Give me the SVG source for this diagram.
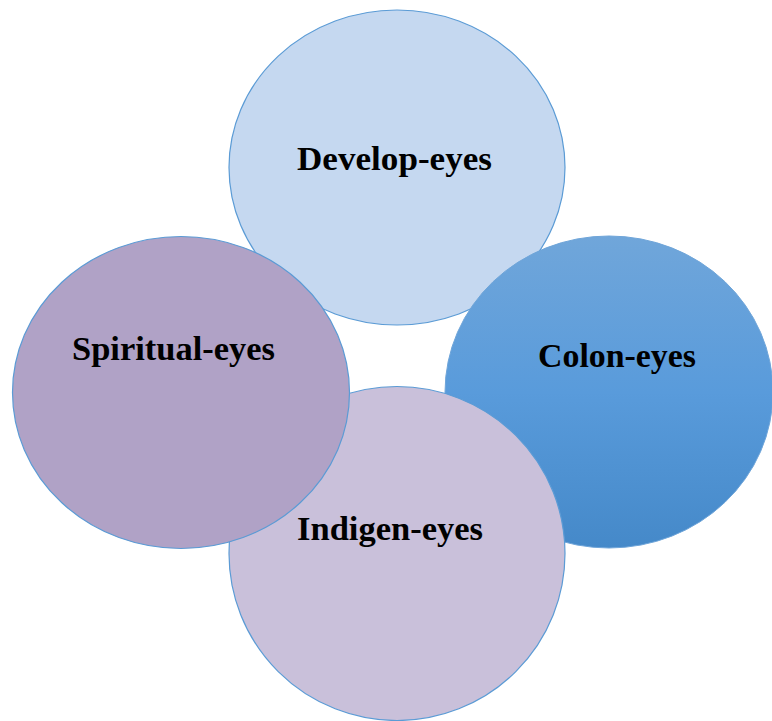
<svg xmlns="http://www.w3.org/2000/svg" width="772" height="721" viewBox="0 0 772 721">
<defs>
<linearGradient id="gColon" x1="0" y1="0" x2="0" y2="1">
<stop offset="0" stop-color="#70A6DA"/>
<stop offset="0.5" stop-color="#599BDB"/>
<stop offset="1" stop-color="#4589C9"/>
</linearGradient>
<style>
.c{stroke:#5B9BD5;stroke-width:1.2}
.t{font-family:"Liberation Serif","Times New Roman",serif;font-weight:bold;font-size:33px;fill:#000;text-anchor:middle}
</style>
</defs>
<rect width="772" height="721" fill="#fff"/>
<g id="develop">
<ellipse class="c" cx="397" cy="167.5" rx="168" ry="157.5" fill="#C5D8F0"/>
<text class="t" x="394.5" y="170" textLength="195" lengthAdjust="spacingAndGlyphs">Develop-eyes</text>
</g>
<g id="colon">
<ellipse cx="609" cy="392" rx="164" ry="156" fill="url(#gColon)" stroke="#6FA5D9" stroke-width="1"/>
<text class="t" x="617" y="367" textLength="158" lengthAdjust="spacingAndGlyphs">Colon-eyes</text>
</g>
<g id="indigen">
<ellipse class="c" cx="397" cy="553.5" rx="168" ry="167" fill="#C9C0DA"/>
<text class="t" x="390" y="540" textLength="186" lengthAdjust="spacingAndGlyphs">Indigen-eyes</text>
</g>
<g id="spiritual">
<ellipse class="c" cx="181" cy="392.5" rx="168.5" ry="156" fill="#B0A2C6"/>
<text class="t" x="173.5" y="360" textLength="203" lengthAdjust="spacingAndGlyphs">Spiritual-eyes</text>
</g>
<g id="connectors"/>
</svg>
